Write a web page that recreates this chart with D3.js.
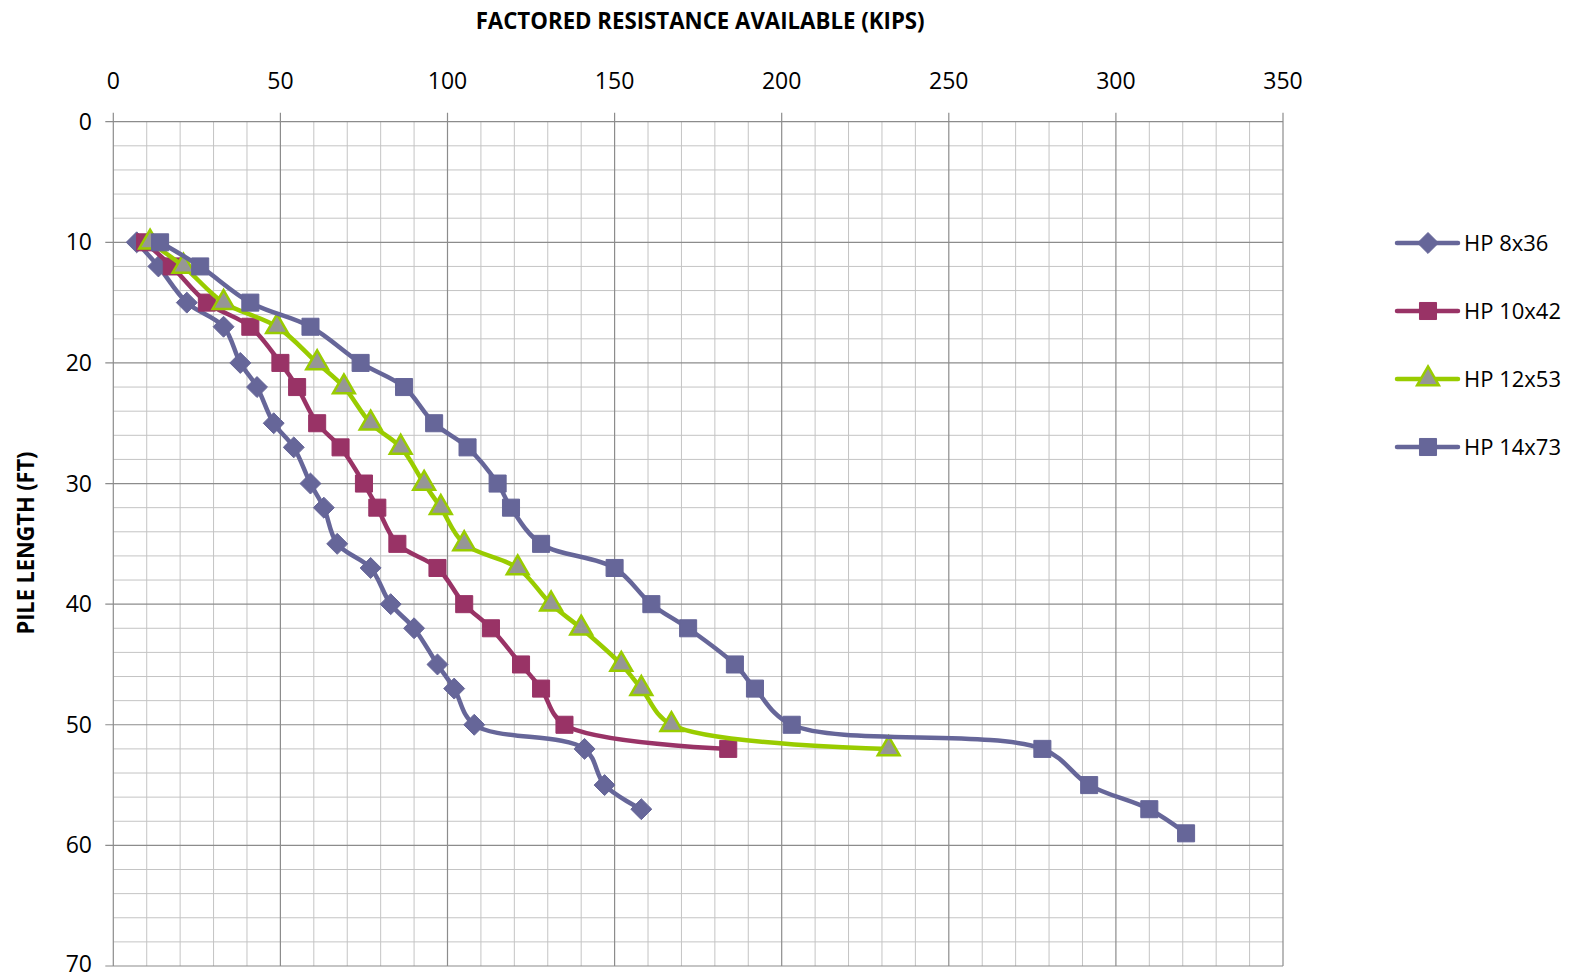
<!DOCTYPE html>
<html>
<head>
<meta charset="utf-8">
<script src="https://cdnjs.cloudflare.com/ajax/libs/d3/7.8.5/d3.min.js"></script>
<style>
  body { margin: 0; background: #fff; }
  svg { display: block; font-family: "Open Sans", sans-serif; }
</style>
</head>
<body>
<div id="chart"></div>
<script>
const width = 1578;
const height = 978;

// pile lengths (ft) and factored resistance (kips) per section
const len8 = [10, 12, 15, 17, 20, 22, 25, 27, 30, 32, 35, 37, 40, 42, 45, 47, 50, 52, 55, 57];
const hp8 = [7, 13.5, 22, 33, 38, 43, 48, 54, 59, 63, 67, 77, 83, 90, 97, 102, 108, 141, 147, 158];

const len10 = [10, 12, 15, 17, 20, 22, 25, 27, 30, 32, 35, 37, 40, 42, 45, 47, 50, 52];
const hp10 = [9.5, 17.5, 28, 41, 50, 55, 61, 68, 75, 79, 85, 97, 105, 113, 122, 128, 135, 184];

const len12 = [10, 12, 15, 17, 20, 22, 25, 27, 30, 32, 35, 37, 40, 42, 45, 47, 50, 52];
const hp12 = [11, 21, 33, 49, 61, 69, 77, 86, 93, 98, 105, 121, 131, 140, 152, 158, 167, 232];

const len14 = [10, 12, 15, 17, 20, 22, 25, 27, 30, 32, 35, 37, 40, 42, 45, 47, 50, 52, 55, 57, 59];
const hp14 = [14, 26, 41, 59, 74, 87, 96, 106, 115, 119, 128, 150, 161, 172, 186, 192, 203, 278, 292, 310, 321];

const seriesNames = ["HP 8x36", "HP 10x42", "HP 12x53", "HP 14x73"];
const xTicks = [0, 50, 100, 150, 200, 250, 300, 350];
const yTicks = [0, 10, 20, 30, 40, 50, 60, 70];

const series = [
  {name: seriesNames[0], len: len8, val: hp8, color: "#666699", fill: "#666699", marker: "diamond"},
  {name: seriesNames[1], len: len10, val: hp10, color: "#993366", fill: "#993366", marker: "square"},
  {name: seriesNames[2], len: len12, val: hp12, color: "#99CC00", fill: "#969696", marker: "triangle"},
  {name: seriesNames[3], len: len14, val: hp14, color: "#666699", fill: "#666699", marker: "square"}
];

const margin = {left: 113.3, top: 121.7, right: 1283, bottom: 966};

const x = d3.scaleLinear().domain([0, 350]).range([margin.left, margin.right]);
const y = d3.scaleLinear().domain([0, 70]).range([margin.top, margin.bottom]);

const svg = d3.select("#chart")
    .append("svg")
    .attr("width", width)
    .attr("height", height);

// minor grid
const grid = svg.append("g");
grid.selectAll(".vminor")
    .data(d3.range(10, 350, 10).filter(v => v % 50 !== 0))
    .join("line")
    .attr("x1", d => x(d)).attr("x2", d => x(d))
    .attr("y1", y(0)).attr("y2", y(70))
    .attr("stroke", "#c4c4c4").attr("stroke-width", 1);
grid.selectAll(".hminor")
    .data(d3.range(2, 70, 2).filter(v => v % 10 !== 0))
    .join("line")
    .attr("x1", x(0)).attr("x2", x(350))
    .attr("y1", d => y(d)).attr("y2", d => y(d))
    .attr("stroke", "#c4c4c4").attr("stroke-width", 1);

// major grid
grid.selectAll(".vmajor")
    .data(xTicks)
    .join("line")
    .attr("x1", d => x(d)).attr("x2", d => x(d))
    .attr("y1", y(0) - 9).attr("y2", y(70))
    .attr("stroke", "#8c8c8c").attr("stroke-width", 1.2);
grid.selectAll(".hmajor")
    .data(yTicks)
    .join("line")
    .attr("x1", x(0) - 8).attr("x2", x(350))
    .attr("y1", d => y(d)).attr("y2", d => y(d))
    .attr("stroke", "#8c8c8c").attr("stroke-width", 1.2);

// tick labels
svg.append("g").selectAll("text")
    .data(xTicks)
    .join("text")
    .attr("x", d => x(d))
    .attr("y", 88.5)
    .attr("text-anchor", "middle")
    .attr("font-size", 23)
    .attr("fill", "#000")
    .text(d => d);

svg.append("g").selectAll("text")
    .data(yTicks)
    .join("text")
    .attr("x", 92)
    .attr("y", d => y(d))
    .attr("dy", d => d === 70 ? "0.28em" : "0.35em")
    .attr("text-anchor", "end")
    .attr("font-size", 23)
    .attr("fill", "#000")
    .text(d => d);

// titles
svg.append("text")
    .attr("x", (x(0) + x(350)) / 2 + 2)
    .attr("y", 29.3)
    .attr("text-anchor", "middle")
    .attr("font-size", 24)
    .attr("font-weight", "bold")
    .attr("textLength", 449)
    .attr("lengthAdjust", "spacingAndGlyphs")
    .text("FACTORED RESISTANCE AVAILABLE (KIPS)");

svg.append("text")
    .attr("transform", "translate(34,543) rotate(-90)")
    .attr("text-anchor", "middle")
    .attr("font-size", 24)
    .attr("font-weight", "bold")
    .attr("textLength", 183)
    .attr("lengthAdjust", "spacingAndGlyphs")
    .text("PILE LENGTH (FT)");

const symbols = {
  diamond: d3.symbol().type(d3.symbolDiamond2).size(280),
  square: d3.symbol().type(d3.symbolSquare2).size(370),
  triangle: d3.symbol().type(d3.symbolTriangle2).size(340)
};

function drawMarker(sel, s) {
  sel.append("path")
      .attr("d", symbols[s.marker]())
      .attr("fill", s.fill)
      .attr("stroke", s.color)
      .attr("stroke-width", s.marker === "triangle" ? 2.5 : 1)
      .attr("stroke-linejoin", "miter");
}

const line = d3.line()
    .x(d => x(d[1]))
    .y(d => y(d[0]))
    .curve(d3.curveCatmullRom.alpha(0.5));

series.forEach(s => {
  const pts = s.len.map((l, i) => [l, s.val[i]]);
  const g = svg.append("g");
  g.append("path")
      .datum(pts)
      .attr("d", line)
      .attr("fill", "none")
      .attr("stroke", s.color)
      .attr("stroke-width", 4.5)
      .attr("stroke-linejoin", "round")
      .attr("stroke-linecap", "round");
  g.selectAll("g.m")
      .data(pts)
      .join("g")
      .attr("class", "m")
      .attr("transform", d => `translate(${x(d[1])},${y(d[0])})`)
      .each(function () { drawMarker(d3.select(this), s); });
});

// legend
const legend = svg.append("g");
series.forEach((s, i) => {
  const ly = 243 + i * 68;
  const lg = legend.append("g");
  lg.append("line")
      .attr("x1", 1397).attr("x2", 1458)
      .attr("y1", ly).attr("y2", ly)
      .attr("stroke", s.color)
      .attr("stroke-width", 4.5)
      .attr("stroke-linecap", "round");
  const m = lg.append("g").attr("transform", `translate(1428,${ly})`);
  drawMarker(m, s);
  lg.append("text")
      .attr("x", 1464)
      .attr("y", ly)
      .attr("dy", "0.35em")
      .attr("font-size", 22)
      .attr("fill", "#000")
      .text(s.name);
});
</script>
</body>
</html>
